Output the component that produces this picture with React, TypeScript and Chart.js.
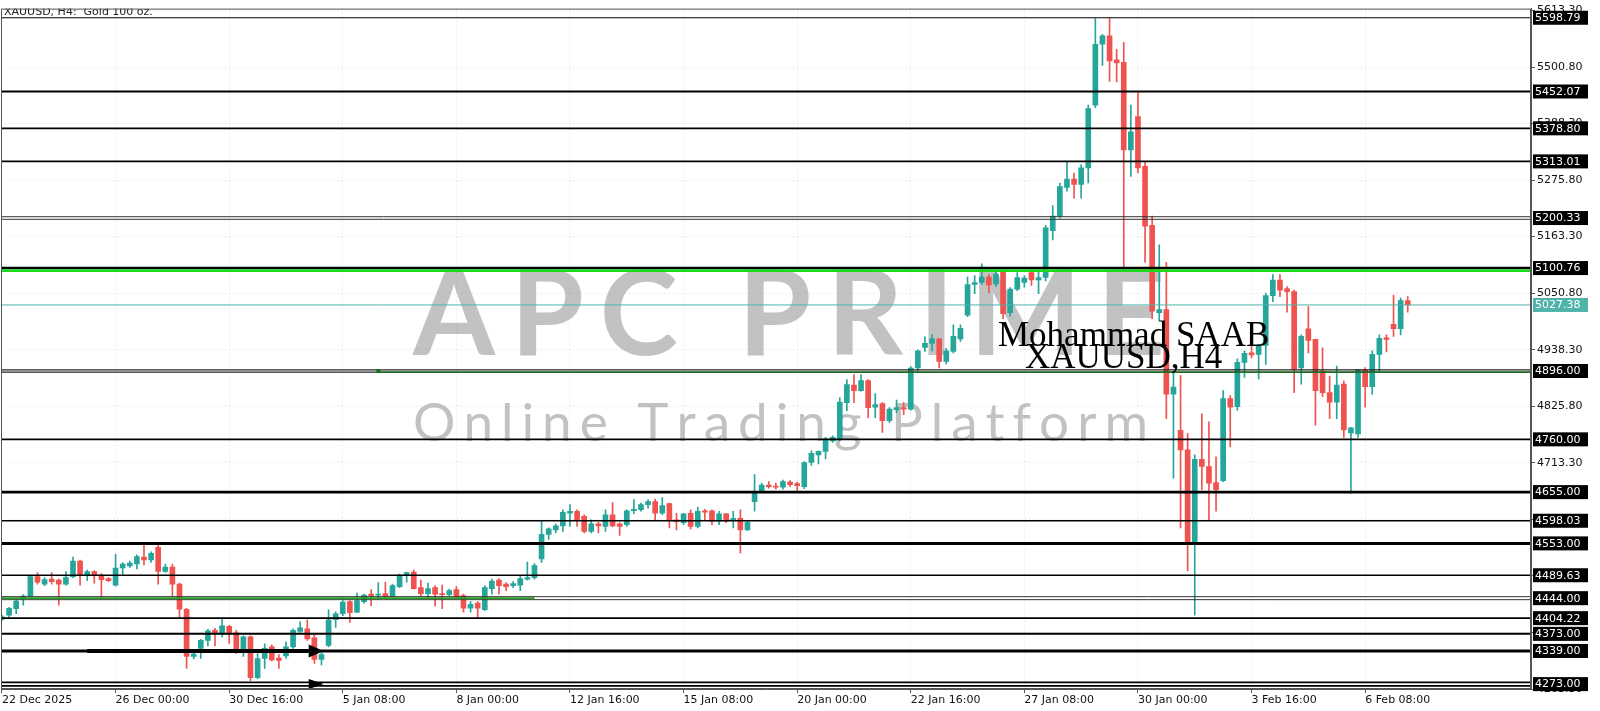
import React, { useEffect, useRef } from 'react';
import { Chart, registerables } from 'chart.js';

Chart.register(...registerables);

// ---------- DATA (XAUUSD H4, one value per candle) ----------
const opens: number[] = [
  4402, 4410, 4423, 4444, 4448, 4487, 4472, 4482, 4480, 4472,
  4487, 4518, 4490, 4497, 4490, 4483, 4470, 4504, 4508, 4512,
  4526, 4520, 4545, 4497, 4506, 4472, 4422, 4328, 4344, 4360,
  4380, 4375, 4388, 4375, 4341, 4367, 4286, 4324, 4347, 4325,
  4329, 4347, 4378, 4383, 4365, 4322, 4350, 4401, 4413, 4437,
  4416, 4437, 4452, 4450, 4453, 4447, 4467, 4490, 4496, 4465,
  4453, 4465, 4453, 4451, 4461, 4449, 4424, 4434, 4421, 4463,
  4480, 4472, 4469, 4470, 4482, 4485, 4522, 4571, 4580, 4588,
  4613, 4617, 4607, 4577, 4592, 4587, 4610, 4592, 4590, 4618,
  4620, 4630, 4636, 4613, 4632, 4600, 4594, 4613, 4587, 4618,
  4618, 4597, 4612, 4599, 4603, 4580, 4636, 4656, 4669, 4667,
  4665, 4675, 4672, 4666, 4714, 4729, 4736, 4757, 4761, 4833,
  4868, 4857, 4877, 4824, 4831, 4797, 4819, 4823, 4820, 4902,
  4943, 4951, 4960, 4915, 4935, 4960, 5007, 5068, 5072, 5083,
  5069, 5096, 5012, 5059, 5072, 5092, 5077, 5082, 5175, 5204,
  5261, 5278, 5267, 5300, 5425, 5546, 5563, 5515, 5510, 5336,
  5402, 5303, 5186, 5012, 5018, 4850, 4778, 4739, 4554, 4720,
  4706, 4674, 4678, 4841, 4825, 4913, 4932, 4929, 4947, 5046,
  5077, 5060, 5054, 4902, 4980, 4959, 4896, 4853, 4834, 4870,
  4773, 4771, 4899, 4865, 4929, 4962, 4989, 4980, 5036,
];
const highs: number[] = [
  4410, 4426, 4443, 4451, 4489, 4495, 4485, 4495, 4482, 4497,
  4526, 4520, 4500, 4499, 4493, 4485, 4531, 4515, 4518, 4530,
  4549, 4536, 4551, 4512, 4512, 4474, 4424, 4336, 4362, 4382,
  4384, 4403, 4390, 4380, 4369, 4369, 4334, 4353, 4351, 4332,
  4357, 4383, 4397, 4401, 4370, 4336, 4421, 4417, 4439, 4439,
  4454, 4452, 4461, 4475, 4476, 4472, 4492, 4496, 4500, 4480,
  4474, 4469, 4470, 4462, 4467, 4452, 4437, 4437, 4469, 4482,
  4483, 4475, 4477, 4488, 4516, 4513, 4599, 4584, 4592, 4620,
  4630, 4620, 4610, 4600, 4595, 4620, 4634, 4594, 4620, 4640,
  4633, 4640, 4641, 4644, 4633, 4613, 4613, 4620, 4625, 4621,
  4620, 4617, 4613, 4617, 4620, 4597, 4690, 4673, 4676, 4673,
  4679, 4678, 4675, 4716, 4737, 4737, 4764, 4767, 4843, 4879,
  4889, 4889, 4879, 4851, 4833, 4823, 4838, 4833, 4905, 4938,
  4964, 4968, 4961, 4941, 4988, 4988, 5083, 5086, 5109, 5088,
  5102, 5102, 5062, 5092, 5086, 5099, 5102, 5186, 5225, 5270,
  5313, 5290, 5306, 5425, 5597, 5566, 5597, 5536, 5550, 5425,
  5450, 5313, 5204, 5147, 5112, 4893, 4887, 4772, 4729, 4811,
  4795, 4725, 4857, 4847, 4920, 4936, 4991, 4949, 5051, 5088,
  5088, 5064, 5057, 4968, 5024, 4959, 4942, 4886, 4906, 4876,
  4784, 4899, 4903, 4936, 4968, 4968, 5047, 5041, 5044,
];
const lows: number[] = [
  4399, 4406, 4413, 4430, 4446, 4472, 4469, 4472, 4430, 4470,
  4485, 4470, 4479, 4474, 4446, 4477, 4468, 4492, 4505, 4502,
  4510, 4515, 4472, 4495, 4448, 4406, 4304, 4323, 4324, 4349,
  4349, 4367, 4354, 4334, 4328, 4280, 4284, 4304, 4319, 4304,
  4324, 4344, 4376, 4360, 4314, 4311, 4347, 4386, 4409, 4396,
  4415, 4434, 4429, 4445, 4446, 4446, 4465, 4476, 4462, 4449,
  4445, 4428, 4423, 4449, 4443, 4416, 4416, 4406, 4419, 4452,
  4452, 4459, 4465, 4459, 4480, 4482, 4515, 4561, 4574, 4577,
  4587, 4587, 4574, 4574, 4574, 4577, 4586, 4569, 4587, 4612,
  4617, 4623, 4599, 4610, 4584, 4580, 4590, 4582, 4584, 4600,
  4590, 4590, 4594, 4584, 4534, 4579, 4617, 4654, 4663, 4661,
  4661, 4666, 4658, 4662, 4708, 4711, 4721, 4754, 4757, 4817,
  4833, 4856, 4803, 4803, 4774, 4793, 4813, 4809, 4818, 4896,
  4935, 4936, 4902, 4910, 4932, 4955, 5004, 5050, 5068, 5052,
  5064, 5000, 5005, 5056, 5063, 5066, 5050, 5075, 5157, 5200,
  5254, 5240, 5240, 5270, 5420, 5504, 5472, 5471, 5102, 5283,
  5290, 5112, 5000, 4995, 4801, 4683, 4584, 4498, 4410, 4660,
  4600, 4617, 4676, 4745, 4818, 4883, 4922, 4880, 4909, 5034,
  5044, 5013, 4853, 4870, 4932, 4788, 4845, 4801, 4801, 4764,
  4653, 4764, 4824, 4850, 4893, 4934, 4965, 4968, 5013,
];
const closes: number[] = [
  4407, 4424, 4438, 4448, 4487, 4476, 4481, 4477, 4472, 4485,
  4518, 4489, 4497, 4490, 4481, 4479, 4504, 4512, 4514, 4527,
  4520, 4533, 4497, 4506, 4472, 4422, 4328, 4333, 4360, 4379,
  4375, 4389, 4375, 4342, 4367, 4286, 4324, 4344, 4321, 4320,
  4347, 4380, 4385, 4363, 4322, 4332, 4401, 4413, 4436, 4415,
  4439, 4450, 4449, 4452, 4447, 4469, 4490, 4495, 4463, 4453,
  4463, 4452, 4451, 4459, 4447, 4424, 4432, 4424, 4465, 4478,
  4469, 4467, 4473, 4483, 4485, 4509, 4571, 4582, 4588, 4615,
  4617, 4600, 4577, 4592, 4588, 4610, 4588, 4587, 4618, 4621,
  4630, 4636, 4613, 4628, 4599, 4596, 4612, 4587, 4617, 4615,
  4597, 4612, 4597, 4603, 4580, 4595, 4655, 4669, 4666, 4665,
  4676, 4670, 4668, 4714, 4732, 4736, 4761, 4764, 4834, 4869,
  4857, 4877, 4823, 4829, 4797, 4820, 4823, 4820, 4902, 4936,
  4951, 4960, 4915, 4936, 4965, 4981, 5068, 5072, 5083, 5067,
  5089, 5010, 5059, 5082, 5081, 5077, 5082, 5181, 5204, 5263,
  5278, 5267, 5300, 5418, 5546, 5563, 5513, 5509, 5336, 5372,
  5300, 5184, 5015, 5018, 4850, 4864, 4739, 4554, 4720, 4706,
  4673, 4660, 4841, 4824, 4913, 4931, 4928, 4947, 5046, 5077,
  5057, 5054, 4899, 4965, 4957, 4857, 4853, 4834, 4868, 4779,
  4783, 4899, 4865, 4929, 4961, 4959, 4980, 5036, 5027.38,
];

const xTickLabels: string[] = [
  '22 Dec 2025', '26 Dec 00:00', '30 Dec 16:00', '5 Jan 08:00', '8 Jan 00:00',
  '12 Jan 16:00', '15 Jan 08:00', '20 Jan 00:00', '22 Jan 16:00', '27 Jan 08:00',
  '30 Jan 00:00', '3 Feb 16:00', '6 Feb 08:00',
];
const candlesPerTick = 16;

const yGridValues: number[] = [
  4263.3, 4375.8, 4488.3, 4600.8, 4713.3, 4825.8, 4938.3,
  5050.8, 5163.3, 5275.8, 5388.3, 5500.8, 5613.3,
];

const levelPrices: number[] = [
  5598.79, 5452.07, 5378.8, 5313.01, 5200.33, 5100.76, 4896.0, 4760.0, 4655.0,
  4598.03, 4553.0, 4489.63, 4444.0, 4404.22, 4373.0, 4339.0, 4273.0,
];
const bidPrice = 5027.38;

const arrowPrices: number[] = [4339, 4273];
const arrowTailIndex: (number | null)[] = [12, null];
const arrowBaseIndex = 43.2;
const arrowTipIndex = 45.3;

const chartTitle = 'XAUUSD, H4:  Gold 100 oz.';
const authorText = 'Mohammad SAAB';
const symbolText = 'XAUUSD,H4';
const watermarkMain = 'APC PRIME';
const watermarkSub = 'Online Trading Platform';

// ---------- STYLES ----------
const UP_COLOR = '#26a69a';
const DOWN_COLOR = '#ef5350';
const BID_COLOR = '#4fb3aa';

type GreenSeg = { from: number; to: number; offset: number; w: number; color: string };
type LevelStyle = { w: number; double?: boolean; gap?: number; color?: string; green?: GreenSeg };
const levelStyles: LevelStyle[] = [
  { w: 1.2 },
  { w: 1.8 },
  { w: 1.8 },
  { w: 1.8 },
  { w: 1, double: true, gap: 1.3, color: '#333' },
  { w: 2.5, green: { from: -5, to: 999, offset: 2.6, w: 2.8, color: '#1ed81e' } },
  { w: 1.2, double: true, gap: 1.2, color: '#222', green: { from: 53, to: 999, offset: 1.2, w: 1.6, color: '#1d6f1d' } },
  { w: 1.6 },
  { w: 2.6 },
  { w: 1.6 },
  { w: 3 },
  { w: 1.6 },
  { w: 1, double: true, gap: 1.5, color: '#333', green: { from: -5, to: 75, offset: 0, w: 2, color: '#2a9a2a' } },
  { w: 1.6 },
  { w: 2 },
  { w: 3 },
  { w: 1.8, double: true, gap: 1.8 },
];

function drawSpaced(ctx: CanvasRenderingContext2D, text: string, x0: number, x1: number, baseline: number) {
  const chars = Array.from(text);
  const widths = chars.map((c) => ctx.measureText(c).width);
  const total = widths.reduce((a, b) => a + b, 0);
  const gap = chars.length > 1 ? (x1 - x0 - total) / (chars.length - 1) : 0;
  let x = x0;
  chars.forEach((c, k) => {
    ctx.fillText(c, x, baseline);
    x += widths[k] + gap;
  });
}

const overlayPlugin = {
  id: 'mt5overlay',
  beforeDraw(chart: any) {
    const ctx = chart.ctx as CanvasRenderingContext2D;
    ctx.save();
    ctx.fillStyle = '#ffffff';
    ctx.fillRect(0, 0, chart.width, chart.height);
    ctx.restore();
  },
  beforeDatasetsDraw(chart: any) {
    const ctx = chart.ctx as CanvasRenderingContext2D;
    const a = chart.chartArea;
    ctx.save();
    ctx.beginPath();
    ctx.rect(a.left, a.top, a.right - a.left, a.bottom - a.top);
    ctx.clip();
    ctx.fillStyle = 'rgba(120,120,120,0.45)';
    ctx.textBaseline = 'alphabetic';
    ctx.textAlign = 'left';
    ctx.font = 'bold 118px Lato, "Open Sans", sans-serif';
    drawSpaced(ctx, watermarkMain, 413, 1165, 355);
    ctx.font = '53px Lato, "Open Sans", sans-serif';
    drawSpaced(ctx, watermarkSub, 413, 1148, 441);
    ctx.restore();
  },
  afterDatasetsDraw(chart: any) {
    const ctx = chart.ctx as CanvasRenderingContext2D;
    const a = chart.chartArea;
    const xs = chart.scales.x;
    const ys = chart.scales.y;
    ctx.save();
    ctx.beginPath();
    ctx.rect(a.left, a.top, a.right - a.left, a.bottom - a.top);
    ctx.clip();

    const hline = (y: number, x0: number, x1: number, w: number, color: string) => {
      ctx.beginPath();
      ctx.strokeStyle = color;
      ctx.lineWidth = w;
      ctx.moveTo(x0, y);
      ctx.lineTo(x1, y);
      ctx.stroke();
    };

    // bid line
    hline(ys.getPixelForValue(bidPrice), a.left, a.right, 1, BID_COLOR);

    levelPrices.forEach((p, k) => {
      const st = levelStyles[k];
      const y = ys.getPixelForValue(p);
      const col = st.color || '#000';
      if (st.double) {
        hline(y - (st.gap || 1), a.left, a.right, st.w, col);
        hline(y + (st.gap || 1), a.left, a.right, st.w, col);
      } else {
        hline(y, a.left, a.right, st.w, col);
      }
      if (st.green) {
        const g = st.green;
        const gx0 = Math.max(a.left, xs.getPixelForValue(g.from));
        const gx1 = Math.min(a.right, xs.getPixelForValue(g.to));
        hline(y + g.offset, gx0, gx1, g.w, g.color);
        if (g.from > 0) {
          ctx.fillStyle = g.color;
          ctx.fillRect(gx0 - 2, y - 2, 4, 4);
        }
      }
    });

    // arrows
    arrowPrices.forEach((p, k) => {
      const y = ys.getPixelForValue(p);
      const xb = xs.getPixelForValue(arrowBaseIndex);
      const xt = xs.getPixelForValue(arrowTipIndex);
      const tail = arrowTailIndex[k];
      if (tail !== null) {
        hline(y, xs.getPixelForValue(tail), xb, 4, '#000');
      }
      const hh = k === 0 ? 6.5 : 5;
      ctx.beginPath();
      ctx.fillStyle = '#000';
      ctx.moveTo(xb, y - hh);
      ctx.lineTo(xt, y);
      ctx.lineTo(xb, y + hh);
      ctx.closePath();
      ctx.fill();
    });

    // annotation texts
    ctx.fillStyle = '#000';
    ctx.textAlign = 'left';
    ctx.textBaseline = 'alphabetic';
    ctx.font = '35px "Liberation Serif", "DejaVu Serif", serif';
    ctx.fillText(authorText, 998, 346);
    ctx.fillText(symbolText, 1025, 368);

    ctx.font = '11px "DejaVu Sans", sans-serif';
    ctx.fillStyle = '#222';
    ctx.fillText(chartTitle, 4, 15);

    ctx.restore();

    // frame
    ctx.save();
    ctx.strokeStyle = '#555';
    ctx.lineWidth = 1;
    ctx.strokeRect(a.left + 0.5, a.top + 0.5, a.right - a.left - 1, a.bottom - a.top - 1);
    ctx.restore();
  },
  afterDraw(chart: any) {
    const ctx = chart.ctx as CanvasRenderingContext2D;
    const a = chart.chartArea;
    const ys = chart.scales.y;
    ctx.save();
    ctx.font = '11px "DejaVu Sans", sans-serif';
    ctx.textBaseline = 'middle';
    ctx.textAlign = 'left';
    const box = (p: number, bg: string) => {
      const y = ys.getPixelForValue(p);
      ctx.fillStyle = bg;
      ctx.fillRect(a.right + 2, y - 7, 55, 14);
      ctx.fillStyle = '#fff';
      ctx.fillText(p.toFixed(2), a.right + 4, y + 0.5);
    };
    levelPrices.forEach((p) => box(p, '#000'));
    box(bidPrice, BID_COLOR);
    ctx.restore();
  },
};

export default function App() {
  const ref = useRef<HTMLCanvasElement | null>(null);

  useEffect(() => {
    document.body.style.margin = '0';
    const canvas = ref.current;
    if (!canvas) return;

    const idx = opens.map((_, i) => i);
    const colors = idx.map((i) => (closes[i] >= opens[i] ? UP_COLOR : DOWN_COLOR));

    const chart = new Chart(canvas, {
      type: 'bar',
      data: {
        datasets: [
          {
            label: 'body',
            data: idx.map((i) => ({ x: i, y: [Math.min(opens[i], closes[i]), Math.max(opens[i], closes[i])] })) as any,
            backgroundColor: colors,
            borderWidth: 0,
            barThickness: 5,
            minBarLength: 1,
            grouped: false,
            order: 1,
          } as any,
          {
            label: 'wick',
            data: idx.map((i) => ({ x: i, y: [lows[i], highs[i]] })) as any,
            backgroundColor: colors,
            borderWidth: 0,
            barThickness: 1,
            grouped: false,
            order: 2,
          } as any,
        ],
      },
      options: {
        animation: false,
        responsive: false,
        devicePixelRatio: 1,
        events: [],
        layout: { padding: { top: 3, left: 1, right: 0, bottom: 0 } },
        plugins: {
          legend: { display: false },
          tooltip: { enabled: false },
          title: { display: false },
        },
        scales: {
          x: {
            type: 'linear',
            min: -0.14,
            max: 215.36,
            offset: false,
            bounds: 'data',
            afterBuildTicks: (s: any) => {
              s.ticks = xTickLabels.map((_, k) => ({ value: k * candlesPerTick }));
            },
            afterFit: (s: any) => {
              s.height = 22;
            },
            ticks: {
              callback: (_v: any, k: number) => xTickLabels[k] ?? '',
              align: 'start',
              maxRotation: 0,
              minRotation: 0,
              autoSkip: false,
              padding: 1,
              color: '#111',
              font: { family: '"DejaVu Sans", sans-serif', size: 11 },
            },
            grid: {
              offset: false,
              color: 'rgba(0,0,0,0.13)',
              tickLength: 4,
              tickColor: '#555',
            },
            border: { display: true, color: '#555', dash: [1, 3] },
          } as any,
          y: {
            type: 'linear',
            position: 'right',
            min: 4263.3,
            max: 5617,
            bounds: 'data',
            afterBuildTicks: (s: any) => {
              s.ticks = yGridValues.map((v) => ({ value: v }));
            },
            afterFit: (s: any) => {
              s.width = 69;
            },
            ticks: {
              callback: (v: any) => Number(v).toFixed(2),
              padding: 2,
              color: '#111',
              font: { family: '"DejaVu Sans", sans-serif', size: 11 },
            },
            grid: {
              color: 'rgba(0,0,0,0.13)',
              tickLength: 4,
              tickColor: '#555',
            },
            border: { display: true, color: '#555', dash: [1, 3] },
          } as any,
        },
      } as any,
      plugins: [overlayPlugin],
    });

    return () => chart.destroy();
  }, []);

  return (
    <div style={{ width: 1600, height: 711 }}>
      <canvas ref={ref} width={1600} height={711} style={{ display: 'block', width: 1600, height: 711 }} />
    </div>
  );
}
